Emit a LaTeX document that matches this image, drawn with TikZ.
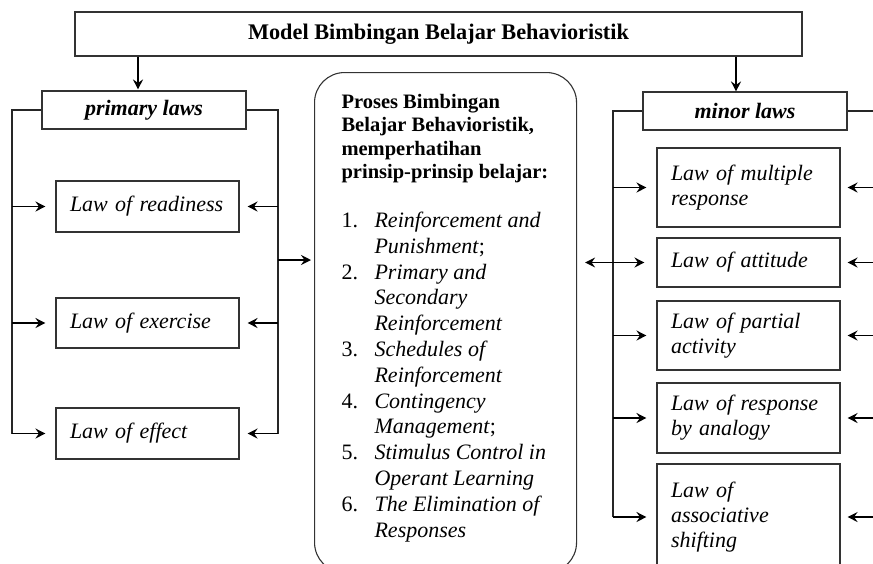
\documentclass[tikz,border=0pt]{standalone}
\usepackage{fontspec}
\setmainfont{Liberation Serif}
\usetikzlibrary{arrows.meta,positioning}

\newcommand{\headfont}{\fontsize{20.5}{23.3}\selectfont\bfseries}

\tikzset{
  box/.style={draw=black!80, line width=1.1pt},
  lawbox/.style={box, text width=155pt, inner xsep=14pt, align=left,
    font=\fontsize{22}{25}\selectfont\itshape},
  headbox/.style={box, minimum width=204pt, minimum height=38pt, inner sep=0pt,
    font=\fontsize{22}{25}\selectfont\bfseries\itshape},
  rail/.style={black!85, line width=1.3pt},
  tip/.tip={Stealth[length=10pt,width=10pt,inset=3.5pt]},
  arr/.style={black, line width=1.8pt, -tip, shorten >=9pt},
}

\begin{document}
\begin{tikzpicture}[x=1pt, y=-1pt]
    \useasboundingbox (0,0) rectangle (873,563);

    % Draw the title
    \node[box, minimum width=727pt, minimum height=44pt, inner sep=0pt,
      font=\fontsize{22.3}{25}\selectfont\bfseries] (title) at (438.5,34)
      {Model Bimbingan Belajar Behavioristik};

    % Draw the two groups of laws
    \node[headbox] (primary) at (144,110) {primary laws};
    \node[headbox] (minor) at (745,111) {minor laws};

    % Draw the primary laws
    \node[lawbox, minimum height=51pt] (readiness) at (147.5,206.5) {Law of readiness};
    \node[lawbox, minimum height=50pt] (exercise) at (147.5,323) {Law of exercise};
    \node[lawbox, minimum height=51pt] (effect) at (147.5,433.5) {Law of effect};

    % Draw the minor laws
    \node[lawbox, minimum height=79pt] (multiple) at (748.5,187.5) {Law of multiple\\response};
    \node[lawbox, minimum height=49pt] (attitude) at (748.5,262.5) {Law of attitude};
    \node[lawbox, minimum height=69pt] (partial) at (748.5,335.5) {Law of partial\\activity};
    \node[lawbox, minimum height=70pt] (analogy) at (748.5,418) {Law of response\\by analogy};
    \node[lawbox, minimum height=106pt] (shifting) at (748.5,517) {Law of\\associative\\shifting};

    % Draw the process box
    \node[box, rounded corners=30pt, anchor=north west, inner xsep=27pt, inner ysep=0pt,
      text height=36pt, text depth=464pt] (proses) at (314,72) {\makebox[208pt][l]{%
      \fontsize{22}{25.8}\selectfont
      \begin{tabular}[t]{@{}l@{}l@{}}
        \multicolumn{2}{@{}l@{}}{\headfont Proses Bimbingan}\\[-2.5pt]
        \multicolumn{2}{@{}l@{}}{\headfont Belajar Behavioristik,}\\[-2.5pt]
        \multicolumn{2}{@{}l@{}}{\headfont memperhatihan}\\[-2.5pt]
        \multicolumn{2}{@{}l@{}}{\headfont prinsip-prinsip belajar:}\\[23.2pt]
        \makebox[33pt][l]{1.} & \textit{Reinforcement and}\\
        & \textit{Punishment};\\
        \makebox[33pt][l]{2.} & \textit{Primary and}\\
        & \textit{Secondary}\\
        & \textit{Reinforcement}\\
        \makebox[33pt][l]{3.} & \textit{Schedules of}\\
        & \textit{Reinforcement}\\
        \makebox[33pt][l]{4.} & \textit{Contingency}\\
        & \textit{Management};\\
        \makebox[33pt][l]{5.} & \textit{Stimulus Control in}\\
        & \textit{Operant Learning}\\
        \makebox[33pt][l]{6.} & \textit{The Elimination of}\\
        & \textit{Responses}
      \end{tabular}}};

    % Draw arrows from the title
    \draw[arr, shorten >=1pt] ([xshift=-6pt]primary.north |- title.south) -- ([xshift=-6pt]primary.north);
    \draw[arr, shorten >=0pt] ([xshift=-9pt]minor.north |- title.south) -- ([xshift=-9pt]minor.north);

    % Draw the rails of the primary laws
    \coordinate (pl) at (12,0);
    \coordinate (pr) at (278,0);
    \draw[rail] (primary.west) -- (primary.west -| pl) -- (effect.west -| pl);
    \draw[rail] (primary.east) -- (primary.east -| pr) -- (effect.east -| pr);
    \foreach \law in {readiness, exercise, effect} {
        \draw[arr, shorten >=10pt] (\law.west -| pl) -- (\law.west);
        \draw[arr, shorten >=8pt] (\law.east -| pr) -- (\law.east);
    }
    \coordinate (pmid) at (278,260);
    \draw[arr, shorten >=3pt] (pmid) -- (pmid -| proses.west);

    % Draw the rails of the minor laws
    \coordinate (ml) at (613,0);
    \coordinate (mr) at (885,0);
    \draw[rail] (minor.west) -- (minor.west -| ml) -- (shifting.west -| ml);
    \draw[rail] (minor.east) -- (minor.east -| mr) -- (shifting.east -| mr);
    \foreach \law in {multiple, partial, analogy, shifting} {
        \draw[arr, shorten >=10pt] (\law.west -| ml) -- (\law.west);
    }
    \foreach \law in {multiple, attitude, partial, analogy, shifting} {
        \draw[arr, shorten >=7pt] (\law.east -| mr) -- (\law.east);
    }
    \draw[arr, tip-tip, shorten <=8pt, shorten >=12pt] (attitude.west -| proses.east) -- (attitude.west);
\end{tikzpicture}
\end{document}
